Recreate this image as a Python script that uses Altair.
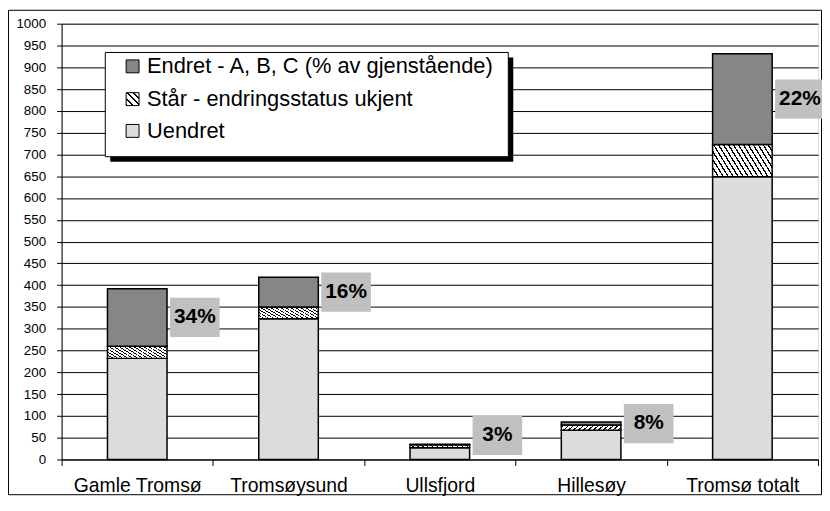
import altair as alt
import pandas as pd

# ---------------- data ----------------
categories = ["Gamle Tromsø", "Tromsøysund", "Ullsfjord", "Hillesøy", "Tromsø totalt"]
uendret = [232, 323, 27, 67, 649]
staar = [28, 27, 7, 12, 74]
endret = [132, 68, 1, 7, 208]
series_names = [
    "Endret - A, B, C (% av gjenstående)",
    "Står - endringsstatus ukjent",
    "Uendret",
]
y_ticks = list(range(0, 1001, 50))

FONT = "Liberation Sans"
W, H = 762, 439
BG = "#c0c0c0"

# ---------------- fills ----------------
def stripes(n, frac, x1, y1, x2, y2):
    stops = []
    for i in range(n):
        a = i / n
        b = (i + frac) / n
        stops += [
            alt.GradientStop(offset=a, color="black"),
            alt.GradientStop(offset=b, color="black"),
            alt.GradientStop(offset=b, color="white"),
            alt.GradientStop(offset=(i + 1) / n, color="white"),
        ]
    return alt.LinearGradient(gradient="linear", stops=stops, x1=x1, y1=y1, x2=x2, y2=y2)

fill_endret = "#868686"
fill_uendret = "#dcdcdc"
fill_staar_bar = stripes(16, 0.3, 0, 1, 1.2, 0.6)
fill_staar_leg = stripes(4, 0.3, 0, 1, 1, 0)

# ---------------- tables ----------------
rows = []
for i, c in enumerate(categories):
    a = uendret[i]
    b = a + staar[i]
    t = b + endret[i]
    rows.append(dict(cat=c, series=series_names[2], y0=0, y1=a))
    rows.append(dict(cat=c, series=series_names[1], y0=a, y1=b))
    rows.append(dict(cat=c, series=series_names[0], y0=b, y1=t))
bars = pd.DataFrame(rows)

lab_rows = []
for i, c in enumerate(categories):
    b = uendret[i] + staar[i]
    t = b + endret[i]
    mid = max((b + t) / 2, 55)
    lab_rows.append(dict(cat=c, txt=f"{round(100 * endret[i] / t)}%", ly=mid,
                         lb=mid - 45, lt=mid + 45))
labels = pd.DataFrame(lab_rows)

one = pd.DataFrame({"k": [0]})

# ---------------- encodings ----------------
X = alt.X(
    "cat:N",
    sort=categories,
    scale=alt.Scale(paddingInner=0, paddingOuter=0),
    axis=alt.Axis(
        title=None, labelAngle=0, tickBand="extent", grid=False,
        labelFont=FONT, labelFontSize=19.5, labelColor="black",
        tickColor="black", tickSize=6, domainColor="black",
        labelPadding=11,
    ),
)

def Y(field):
    return alt.Y(
        field,
        scale=alt.Scale(domain=[0, 1000], nice=False, zero=True),
        axis=alt.Axis(
            title=None, values=y_ticks, format="d", grid=True, gridColor="black",
            gridWidth=1, labelFont=FONT, labelFontSize=13.5,
            labelColor="black", tickColor="black", tickSize=5,
            domainColor="black", labelPadding=11,
        ),
    )

layers = []

# outer border
layers.append(
    alt.Chart(one).mark_rect(fill="white", fillOpacity=0, stroke="black", strokeWidth=1).encode(
        x=alt.value(-53.5), x2=alt.value(765.5), y=alt.value(-13.5), y2=alt.value(474.5)
    )
)

fills = {series_names[2]: fill_uendret, series_names[1]: fill_staar_bar, series_names[0]: fill_endret}
for s in [series_names[2], series_names[1], series_names[0]]:
    layers.append(
        alt.Chart(bars[bars.series == s]).mark_bar(
            size=60, fill=fills[s], stroke="black", strokeWidth=1.5, opacity=1
        ).encode(x=X, y=Y("y0:Q"), y2="y1:Q")
    )

# label boxes + labels
layers.append(
    alt.Chart(labels).mark_bar(
        size=50, fill=BG, opacity=1, fillOpacity=1, strokeWidth=0, xOffset=58
    ).encode(x=X, y=Y("lb:Q"), y2="lt:Q")
)
layers.append(
    alt.Chart(labels).mark_text(
        font=FONT, fontSize=21, fontWeight="bold", color="black",
        align="center", baseline="middle", dx=58,
    ).encode(x=X, y=Y("ly:Q"), text="txt:N")
)

# legend
layers.append(
    alt.Chart(one).mark_rect(fill="black").encode(
        x=alt.value(49), x2=alt.value(455), y=alt.value(34), y2=alt.value(139)
    )
)
layers.append(
    alt.Chart(one).mark_rect(fill="white", stroke="black", strokeWidth=1).encode(
        x=alt.value(44), x2=alt.value(450), y=alt.value(29), y2=alt.value(134)
    )
)
leg_fills = [fill_endret, fill_staar_leg, fill_uendret]
row_y = [43, 76, 108]
for j, name in enumerate(series_names):
    cy = row_y[j]
    layers.append(
        alt.Chart(one).mark_rect(fill=leg_fills[j], stroke="black", strokeWidth=1).encode(
            x=alt.value(65), x2=alt.value(78), y=alt.value(cy - 6.5), y2=alt.value(cy + 6.5)
        )
    )
    layers.append(
        alt.Chart(one).mark_text(
            text=name, font=FONT, fontSize=22, color="black", align="left", baseline="middle"
        ).encode(x=alt.value(86), y=alt.value(cy))
    )

chart = (
    alt.layer(*layers)
    .properties(
        width=W, height=H,
        autosize=alt.AutoSizeParams(type="none"),
        padding={"left": 54, "top": 14, "right": 4, "bottom": 36},
    )
    .configure_view(fill=BG, stroke="#808080")
    .configure(font=FONT, background="white")
)

chart.save("out.html", embed_options={"renderer": "svg", "actions": False})
